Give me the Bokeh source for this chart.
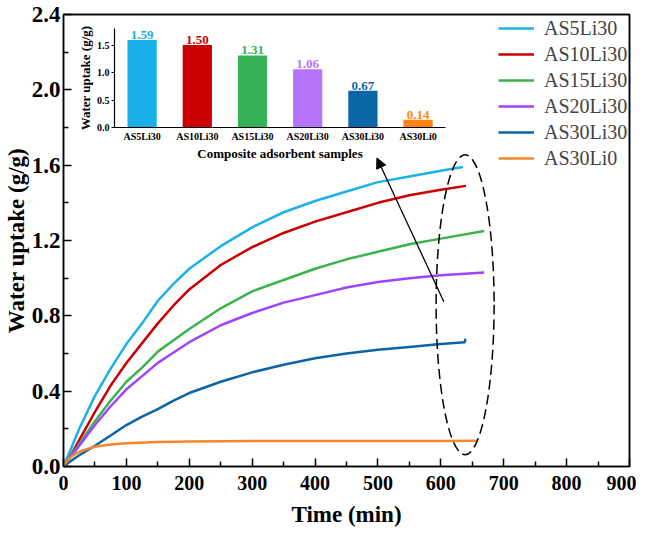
import numpy as np
from bokeh.plotting import figure
from bokeh.models import (ColumnDataSource, Range1d, LinearAxis, FixedTicker,
                          NumeralTickFormatter, Legend, LegendItem, Arrow, NormalHead)
from bokeh.core.properties import value
from bokeh.embed import file_html
from bokeh.resources import INLINE

FONT = "Liberation Serif"

# sample names, colours and final uptake values (inset bars)
samples = ["AS5Li30", "AS10Li30", "AS15Li30", "AS20Li30", "AS30Li30", "AS30Li0"]
line_colors = ["#1cb2e8", "#cc0000", "#3bb34e", "#a043ff", "#0c63a6", "#f5872e"]
bar_colors = ["#19aee6", "#cc0000", "#35b255", "#b574fb", "#0b66a8", "#ff8314"]
final_uptake = [1.59, 1.50, 1.31, 1.06, 0.67, 0.14]

# axis ticks
x_ticks = [0, 100, 200, 300, 400, 500, 600, 700, 800, 900]
x_minor = [50, 150, 250, 350, 450, 550, 650, 750, 850]
y_ticks = [0.0, 0.4, 0.8, 1.2, 1.6, 2.0, 2.4]
y_minor = [0.2, 0.6, 1.0, 1.4, 1.8, 2.2]
inset_y_ticks = [0.0, 0.5, 1.0, 1.5]

# water uptake curves (time in min, uptake in g/g)
time_as5 = [0, 10, 25, 50, 75, 100, 125, 150, 175, 200, 250, 300, 350, 400, 450, 500, 550, 600, 635]
uptake_as5 = [0, 0.08, 0.20, 0.375, 0.52, 0.65, 0.76, 0.88, 0.97, 1.05, 1.17, 1.27, 1.35, 1.41, 1.46, 1.51, 1.54, 1.57, 1.59]

time_as10 = [0, 10, 25, 50, 75, 100, 125, 150, 175, 200, 250, 300, 350, 400, 450, 500, 550, 600, 640]
uptake_as10 = [0, 0.05, 0.14, 0.29, 0.43, 0.55, 0.655, 0.76, 0.855, 0.94, 1.07, 1.165, 1.24, 1.30, 1.35, 1.40, 1.44, 1.47, 1.49]

time_as15 = [0, 10, 25, 50, 75, 100, 125, 150, 175, 200, 250, 300, 350, 400, 450, 500, 550, 600, 669]
uptake_as15 = [0, 0.05, 0.12, 0.24, 0.35, 0.45, 0.525, 0.61, 0.67, 0.73, 0.84, 0.93, 0.99, 1.05, 1.10, 1.14, 1.18, 1.21, 1.25]

time_as20 = [0, 10, 25, 50, 75, 100, 125, 150, 175, 200, 250, 300, 350, 400, 450, 500, 550, 600, 669]
uptake_as20 = [0, 0.045, 0.11, 0.22, 0.32, 0.41, 0.48, 0.55, 0.605, 0.66, 0.75, 0.815, 0.87, 0.91, 0.95, 0.98, 1.00, 1.015, 1.03]

time_as30 = [0, 10, 25, 50, 75, 100, 125, 150, 175, 200, 250, 300, 350, 400, 450, 500, 550, 600, 638, 639]
uptake_as30 = [0, 0.025, 0.06, 0.11, 0.165, 0.22, 0.265, 0.305, 0.35, 0.39, 0.45, 0.50, 0.54, 0.575, 0.60, 0.62, 0.635, 0.65, 0.66, 0.678]

time_as30li0 = [0, 5, 10, 20, 30, 50, 75, 100, 150, 200, 300, 400, 500, 600, 658]
uptake_as30li0 = [0, 0.025, 0.045, 0.07, 0.085, 0.105, 0.117, 0.124, 0.13, 0.133, 0.135, 0.136, 0.136, 0.136, 0.137]

curves = [(time_as5, uptake_as5), (time_as10, uptake_as10), (time_as15, uptake_as15),
          (time_as20, uptake_as20), (time_as30, uptake_as30), (time_as30li0, uptake_as30li0)]

# frame size fixed so the inset ranges below line up with it
FRAME_W, FRAME_H = 566, 452

p = figure(frame_width=FRAME_W, frame_height=FRAME_H, x_range=Range1d(0, 900), y_range=Range1d(0, 2.4),
           output_backend="svg", toolbar_location=None,
           min_border_left=61, min_border_right=7, min_border_top=14, min_border_bottom=60,
           x_axis_label="Time (min)", y_axis_label="Water uptake (g/g)")
p.xgrid.visible = False
p.ygrid.visible = False
p.outline_line_color = "black"
p.outline_line_width = 1.5

p.xaxis.ticker = FixedTicker(ticks=x_ticks, minor_ticks=x_minor)
p.yaxis.ticker = FixedTicker(ticks=y_ticks, minor_ticks=y_minor)
p.yaxis.formatter = NumeralTickFormatter(format="0.0")
for ax in (p.xaxis, p.yaxis):
    ax.axis_line_width = 1.5
    ax.major_tick_line_width = 1.5
    ax.minor_tick_line_width = 1.5
    ax.major_tick_in = 8
    ax.major_tick_out = 0
    ax.minor_tick_in = 5
    ax.minor_tick_out = 0
    ax.major_label_text_font = FONT
    ax.major_label_text_font_style = "bold"
    ax.major_label_text_color = "black"
    ax.axis_label_text_font = FONT
    ax.axis_label_text_font_style = "bold"
    ax.axis_label_text_font_size = "23px"
    ax.axis_label_text_color = "black"
p.xaxis.major_label_text_font_size = "20px"
p.yaxis.major_label_text_font_size = "23px"
p.xaxis.major_label_standoff = 9
p.xaxis.axis_label_standoff = 9
p.yaxis.major_label_standoff = 3
p.yaxis.axis_label_standoff = 0

# plain border lines on the top and right side of the frame
for side in ("above", "right"):
    border = LinearAxis(ticker=FixedTicker(ticks=[]), axis_line_width=1.5, axis_line_color="black",
                        major_tick_in=0, major_tick_out=0, minor_tick_in=0, minor_tick_out=0,
                        major_label_standoff=0, major_label_text_font_size="0px")
    p.add_layout(border, side)

# main kinetic curves
items = []
for name, color, (t, v) in zip(samples, line_colors, curves):
    r = p.line(t, v, line_color=color, line_width=2.5)
    items.append(LegendItem(label=name, renderers=[r]))

# legend box: 6 rows of 26 px plus padding, placed by its lower left corner
legend_h = 6 * 26 + 4
legend = Legend(items=items, location=(FRAME_W - 131, FRAME_H - legend_h + 3),
                border_line_color=None, background_fill_alpha=0,
                label_text_font=FONT, label_text_font_size="20px", glyph_width=36, glyph_height=26,
                label_height=26, spacing=0, padding=2, margin=0, label_standoff=10)
p.add_layout(legend)

# dashed ellipse around the curve ends and the arrow pointing to the inset
p.ellipse(x=638.6, y=0.859, width=58, height=300, width_units="screen", height_units="screen",
          fill_color=None, line_color="black", line_dash="10 5", line_width=1.5)
p.add_layout(Arrow(end=NormalHead(size=10, fill_color="black", line_color="black", line_width=1),
                   x_start=604.8, y_start=0.875, x_end=498.4, y_end=1.638,
                   line_color="black", line_width=1.3))

# inset bar chart drawn on extra ranges mapped onto the upper left of the frame
inset_y0_px, inset_y_unit = 113.0, 55.0     # zero line below frame top, px per g/g
inset_x0_px, inset_x_unit = 51.0, 55.2      # axis start right of frame left, px per category
iy_end = inset_y0_px / inset_y_unit
iy_start = iy_end - FRAME_H / inset_y_unit
ix_start = -0.5 - inset_x0_px / inset_x_unit
ix_end = ix_start + FRAME_W / inset_x_unit
p.extra_y_ranges = {"iy": Range1d(iy_start, iy_end)}
p.extra_x_ranges = {"ix": Range1d(ix_start, ix_end)}

bar_pos = np.arange(len(samples))
bar_src = ColumnDataSource(dict(x=bar_pos, top=final_uptake, color=bar_colors,
                                label=["%.2f" % v for v in final_uptake]))
p.vbar(x="x", top="top", width=0.53, fill_color="color", line_color=None, source=bar_src,
       x_range_name="ix", y_range_name="iy")
p.text(x="x", y="top", text="label", text_color="color", source=bar_src,
       text_font=value(FONT), text_font_style="bold", text_font_size="13px",
       text_align="center", text_baseline="bottom", y_offset=-1,
       x_range_name="ix", y_range_name="iy")

iy_axis = LinearAxis(x_range_name="ix", y_range_name="iy", fixed_location=-0.5, bounds=(0, 1.8),
                     ticker=FixedTicker(ticks=inset_y_ticks),
                     formatter=NumeralTickFormatter(format="0.0"),
                     axis_label="Water uptake (g/g)")
ix_axis = LinearAxis(x_range_name="ix", y_range_name="iy", fixed_location=0, bounds=(-0.5, 5.5),
                     ticker=FixedTicker(ticks=list(bar_pos)),
                     major_label_overrides={int(i): s for i, s in zip(bar_pos, samples)},
                     axis_label="Composite adsorbent samples")
for ax in (iy_axis, ix_axis):
    ax.axis_line_width = 1.2
    ax.major_tick_line_width = 1.2
    ax.minor_tick_line_color = None
    ax.major_label_text_font = FONT
    ax.major_label_text_font_style = "bold"
    ax.major_label_text_font_size = "10px"
    ax.major_label_text_color = "black"
    ax.axis_label_text_font = FONT
    ax.axis_label_text_font_style = "bold"
    ax.axis_label_text_font_size = "13px"
    ax.axis_label_text_color = "black"
iy_axis.major_tick_in = 0
iy_axis.major_tick_out = 3
iy_axis.major_label_standoff = 2
iy_axis.axis_label_standoff = 1
ix_axis.major_tick_in = 0
ix_axis.major_tick_out = 0
ix_axis.major_label_standoff = 3
ix_axis.axis_label_standoff = 1
p.add_layout(iy_axis, "left")
p.add_layout(ix_axis, "below")

open("out.html", "w").write(file_html(p, INLINE))
